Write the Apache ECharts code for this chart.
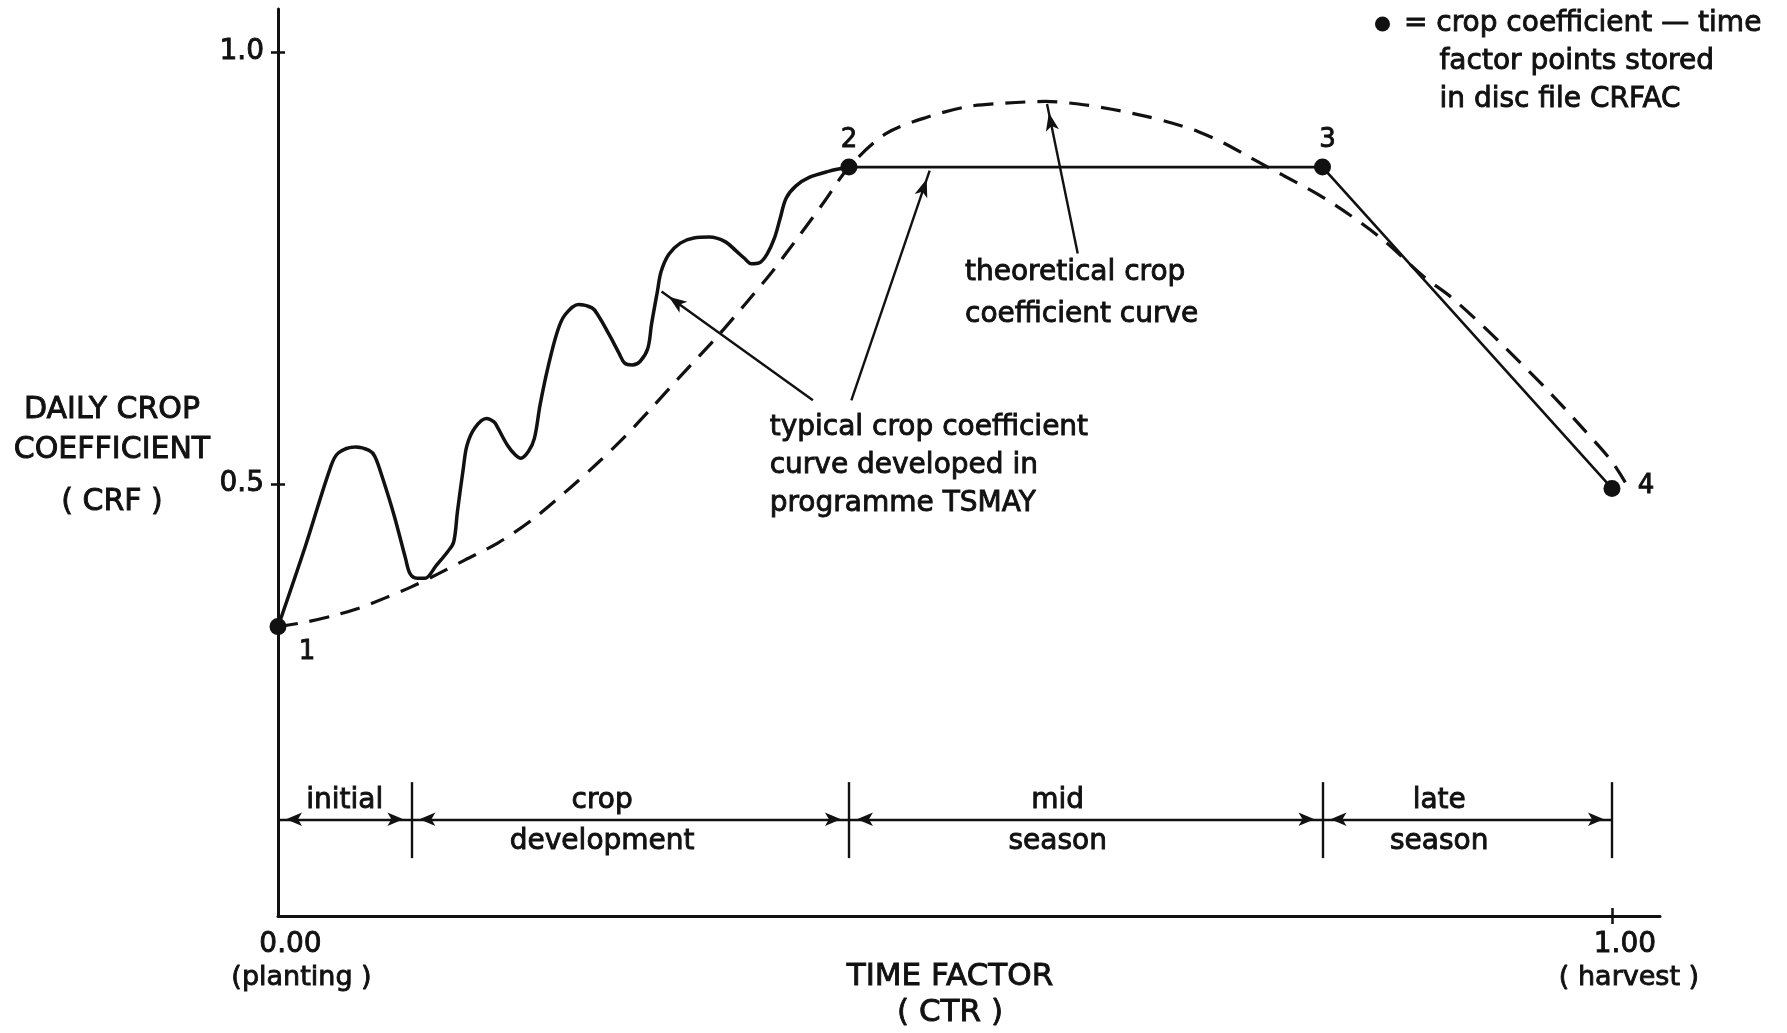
<!DOCTYPE html>
<html>
<head>
<meta charset="utf-8">
<title>Daily crop coefficient versus time factor</title>
<script src="https://cdn.jsdelivr.net/npm/echarts@6/dist/echarts.min.js"></script>
<style>
  html, body { margin: 0; padding: 0; background: #ffffff; }
  #chart { width: 1787px; height: 1033px; }
</style>
</head>
<body>
<div id="chart"></div>
<script>
// Crop coefficient – time factor points stored in disc file CRFAC
const crfacTime = [0.0, 0.428, 0.783, 1.0];
const crfacCoef = [0.335, 0.867, 0.867, 0.495];
const crfacLabels = ['1', '2', '3', '4'];

// Typical crop coefficient curve developed in programme TSMAY (point 1 to point 2)
const typicalCurve = [
  [0.0, 0.335], [0.0207, 0.429], [0.0395, 0.520], [0.0452, 0.536], [0.0582, 0.543],
  [0.0683, 0.539], [0.0726, 0.532], [0.0784, 0.507], [0.0870, 0.464], [0.0956, 0.414],
  [0.0991, 0.396], [0.1043, 0.391], [0.1101, 0.391], [0.1187, 0.406], [0.1273, 0.422],
  [0.1317, 0.433], [0.1345, 0.468], [0.1389, 0.518], [0.1417, 0.545], [0.1475, 0.565],
  [0.1562, 0.576], [0.1619, 0.572], [0.1648, 0.565], [0.1720, 0.545], [0.1778, 0.534],
  [0.1821, 0.530], [0.1878, 0.538], [0.1922, 0.553], [0.1965, 0.592], [0.2022, 0.634],
  [0.2095, 0.677], [0.2152, 0.696], [0.2253, 0.708], [0.2354, 0.704], [0.2397, 0.696],
  [0.2483, 0.673], [0.2555, 0.652], [0.2599, 0.640], [0.2656, 0.638], [0.2714, 0.642],
  [0.2772, 0.657], [0.2800, 0.685], [0.2844, 0.723], [0.2872, 0.746], [0.2930, 0.766],
  [0.3016, 0.779], [0.3117, 0.785], [0.3233, 0.786], [0.3348, 0.781], [0.3434, 0.770],
  [0.3492, 0.762], [0.3549, 0.755], [0.3607, 0.756], [0.3665, 0.766], [0.3722, 0.785],
  [0.3765, 0.808], [0.3809, 0.831], [0.3881, 0.845], [0.3982, 0.855], [0.4126, 0.862],
  [0.428, 0.867]
];

// Theoretical crop coefficient curve
const theoreticalCurve = [
  [0.0, 0.335], [0.02, 0.340], [0.04, 0.347], [0.06, 0.356], [0.08, 0.368],
  [0.10, 0.381], [0.12, 0.396], [0.14, 0.412], [0.165, 0.432], [0.19, 0.458],
  [0.22, 0.497], [0.24, 0.525], [0.26, 0.555], [0.28, 0.588], [0.30, 0.622],
  [0.33, 0.672], [0.35, 0.708], [0.37, 0.745], [0.39, 0.786], [0.41, 0.828],
  [0.428, 0.867], [0.456, 0.906], [0.487, 0.925], [0.517, 0.937], [0.545, 0.941],
  [0.575, 0.943], [0.60, 0.940], [0.625, 0.934], [0.65, 0.926], [0.67, 0.918],
  [0.69, 0.908], [0.71, 0.894], [0.73, 0.877], [0.754, 0.857], [0.779, 0.836],
  [0.804, 0.811], [0.829, 0.782], [0.859, 0.740], [0.879, 0.717], [0.904, 0.682],
  [0.929, 0.644], [0.954, 0.605], [0.979, 0.563], [0.999, 0.528], [1.01, 0.502]
];

// Growth stages and their limits on the time factor scale
const stageBounds = [0.0, 0.1, 0.428, 0.783, 1.0];
const stageUpper = ['initial', 'crop', 'mid', 'late'];
const stageLower = ['', 'development', 'season', 'season'];

// Axis ticks
const yTicks = [0.5, 1.0];
const yTickText = ['0.5', '1.0'];
const xTicks = [0, 1];
const xTickText = ['0.00', '1.00'];
const xTickNote = ['(planting )', '( harvest )'];

// Texts
const keyName = 'crop coefficient – time factor points stored in disc file CRFAC';
const keyLines = [' = crop coefficient — time', '     factor points stored', '     in disc file CRFAC'];
const noteTheoretical = 'theoretical crop\ncoefficient curve';
const noteTypical = 'typical crop coefficient\ncurve developed in\nprogramme TSMAY';

const FONT = '"DejaVu Sans", "Noto Sans", sans-serif';
const INK = '#111111';
// pen-drawn lettering is heavier than a regular face: thicken glyphs slightly
const PEN = { textBorderColor: INK, textBorderWidth: 0.9 };
const X_MAX = 1.036;
const Y_MAX = 1.05;

const chart = echarts.init(document.getElementById('chart'), null, { renderer: 'canvas' });

// --- annotation geometry (drawn through the axes) ---
const ARROW_Y = 0.112;
const arrowEnd = (x, y, size) => ({
  coord: [x, y], symbol: 'arrow', symbolSize: size, symbolOffset: [0, size[1] / 2]
});
const plainEnd = (x, y) => ({ coord: [x, y], symbol: 'none' });

const markLines = [];
// stage extents: double headed arrows between the stage limits
for (let i = 0; i < stageBounds.length - 1; i++) {
  markLines.push([
    arrowEnd(stageBounds[i], ARROW_Y, [10, 16]),
    arrowEnd(stageBounds[i + 1], ARROW_Y, [10, 16])
  ]);
}
// stage limit bars
stageBounds.slice(1).forEach(b => {
  markLines.push([plainEnd(b, 0.067), plainEnd(b, 0.155)]);
});
// leader arrows from the notes to the curves
markLines.push([plainEnd(0.5995, 0.767), arrowEnd(0.5765, 0.940, [10, 18])]);
markLines.push([plainEnd(0.401, 0.597), arrowEnd(0.2875, 0.723, [10, 18])]);
markLines.push([plainEnd(0.4298, 0.597), arrowEnd(0.4885, 0.863, [10, 18])]);

// text notes anchored in data space
const notes = [];
stageUpper.forEach((t, i) => {
  const mid = (stageBounds[i] + stageBounds[i + 1]) / 2 - (i === 0 ? 0 : 0.021);
  notes.push({ name: t, value: [mid, 0.134] });
  if (stageLower[i]) notes.push({ name: stageLower[i], value: [mid, 0.086] });
});
notes.push({
  name: noteTheoretical, value: [0.515, 0.720],
  label: { align: 'left', lineHeight: 42 }
});
notes.push({
  name: noteTypical, value: [0.3686, 0.521],
  label: { align: 'left', lineHeight: 38 }
});

const crfacData = crfacTime.map((t, i) => ({
  value: [t, crfacCoef[i]],
  label: {
    formatter: crfacLabels[i],
    offset: [[29, 26], [0, -27], [5, -27], [34, -2]][i]
  }
}));

const option = {
  animation: false,
  backgroundColor: '#ffffff',
  textStyle: { fontFamily: FONT, color: INK },
  grid: {
    left: 278, right: 127, top: 9, bottom: 117,
    containLabel: false,
    outerBoundsMode: 'none'
  },
  legend: {
    data: [keyName],
    left: 1370,
    top: -76,
    icon: 'circle',
    itemWidth: 15,
    itemHeight: 15,
    itemGap: 0,
    selectedMode: false,
    // two empty lines above keep the first text line level with the dot
    formatter: () => '\n\n' + keyLines.join('\n'),
    itemStyle: { opacity: 1 },
    textStyle: Object.assign({ fontFamily: FONT, fontSize: 28, lineHeight: 38, color: INK }, PEN)
  },
  xAxis: [
    {
      type: 'value', min: 0, max: X_MAX, position: 'bottom',
      axisLine: { show: true, onZero: false, lineStyle: { color: INK, width: 3 } },
      axisTick: { show: true, customValues: [1], length: 8, lineStyle: { color: INK, width: 2.5 } },
      splitLine: { show: false },
      axisLabel: {
        customValues: xTicks,
        margin: 12,
        color: INK,
        formatter: v => {
          const i = xTicks.indexOf(v);
          return '{v' + i + '|' + xTickText[i] + '}\n{n' + i + '|' + xTickNote[i] + '}';
        },
        rich: {
          v0: Object.assign({ fontFamily: FONT, fontSize: 28, lineHeight: 33, color: INK, padding: [0, 0, 0, 25] }, PEN),
          n0: Object.assign({ fontFamily: FONT, fontSize: 27, lineHeight: 33, color: INK, padding: [0, 0, 0, 47] }, PEN),
          v1: Object.assign({ fontFamily: FONT, fontSize: 28, lineHeight: 33, color: INK, padding: [0, 0, 0, 26] }, PEN),
          n1: Object.assign({ fontFamily: FONT, fontSize: 27, lineHeight: 33, color: INK, padding: [0, 0, 0, 34] }, PEN)
        }
      },
      name: 'TIME FACTOR\n( CTR )',
      nameLocation: 'middle',
      nameGap: 43,
      nameMoveOverlap: false,
      nameTextStyle: Object.assign({
        fontFamily: FONT, fontSize: 31, lineHeight: 36, color: INK,
        align: 'center', padding: [0, 38, 0, 0]
      }, PEN)
    },
    {
      type: 'value', min: 0, max: X_MAX, position: 'bottom',
      axisLine: { show: false },
      axisTick: { show: true, inside: true, customValues: [1], length: 8, lineStyle: { color: INK, width: 2.5 } },
      axisLabel: { show: false },
      splitLine: { show: false }
    }
  ],
  yAxis: [
    {
      type: 'value', min: 0, max: Y_MAX, position: 'left',
      axisLine: { show: true, onZero: false, lineStyle: { color: INK, width: 3 } },
      axisTick: { show: true, customValues: yTicks, length: 7, lineStyle: { color: INK, width: 2.5 } },
      splitLine: { show: false },
      axisLabel: Object.assign({
        customValues: yTicks,
        margin: 14,
        fontFamily: FONT, fontSize: 28, color: INK,
        formatter: v => yTickText[yTicks.indexOf(v)]
      }, PEN),
      name: '{a|DAILY CROP}\n{a|COEFFICIENT}\n{c|( CRF )}',
      nameLocation: 'middle',
      nameRotate: 0,
      nameGap: 166,
      nameMoveOverlap: false,
      nameTextStyle: {
        align: 'center', verticalAlign: 'middle',
        rich: {
          a: Object.assign({ fontFamily: FONT, fontSize: 30, lineHeight: 40, color: INK }, PEN),
          c: Object.assign({ fontFamily: FONT, fontSize: 30, lineHeight: 64, color: INK }, PEN)
        }
      }
    },
    {
      type: 'value', min: 0, max: Y_MAX, position: 'left',
      axisLine: { show: false },
      axisTick: { show: true, inside: true, customValues: yTicks, length: 7, lineStyle: { color: INK, width: 2.5 } },
      axisLabel: { show: false },
      splitLine: { show: false }
    }
  ],
  series: [
    {
      name: 'theoretical crop coefficient curve',
      type: 'line',
      data: theoreticalCurve,
      smooth: 0.3,
      showSymbol: false,
      silent: true,
      clip: false,
      lineStyle: { color: INK, width: 3.2, type: [20, 12] },
      z: 2
    },
    {
      name: 'typical crop coefficient curve',
      type: 'line',
      data: typicalCurve,
      smooth: 0.35,
      showSymbol: false,
      silent: true,
      clip: false,
      lineStyle: { color: INK, width: 3.5 },
      z: 3
    },
    {
      name: 'stored crop coefficient segments',
      type: 'line',
      data: crfacTime.slice(1).map((t, i) => [t, crfacCoef[i + 1]]),
      smooth: false,
      showSymbol: false,
      silent: true,
      clip: false,
      lineStyle: { color: INK, width: 2.6 },
      z: 3
    },
    {
      name: keyName,
      type: 'scatter',
      data: crfacData,
      symbol: 'circle',
      symbolSize: 17,
      itemStyle: { color: INK, opacity: 1 },
      silent: true,
      clip: false,
      label: Object.assign({
        show: true,
        position: 'inside',
        fontFamily: FONT,
        fontSize: 26,
        color: INK
      }, PEN),
      z: 5
    },
    {
      name: 'annotations',
      type: 'scatter',
      data: notes,
      symbolSize: 0,
      itemStyle: { color: INK, opacity: 1 },
      silent: true,
      clip: false,
      label: Object.assign({
        show: true,
        position: 'inside',
        formatter: '{b}',
        fontFamily: FONT,
        fontSize: 28,
        color: INK,
        align: 'center',
        verticalAlign: 'middle'
      }, PEN),
      markLine: {
        silent: true,
        animation: false,
        precision: 4,
        label: { show: false },
        emphasis: { disabled: true },
        lineStyle: { color: INK, width: 2.4, type: 'solid', opacity: 1 },
        itemStyle: { color: INK, opacity: 1 },
        data: markLines
      },
      z: 4
    }
  ]
};

chart.setOption(option);
</script>
</body>
</html>
